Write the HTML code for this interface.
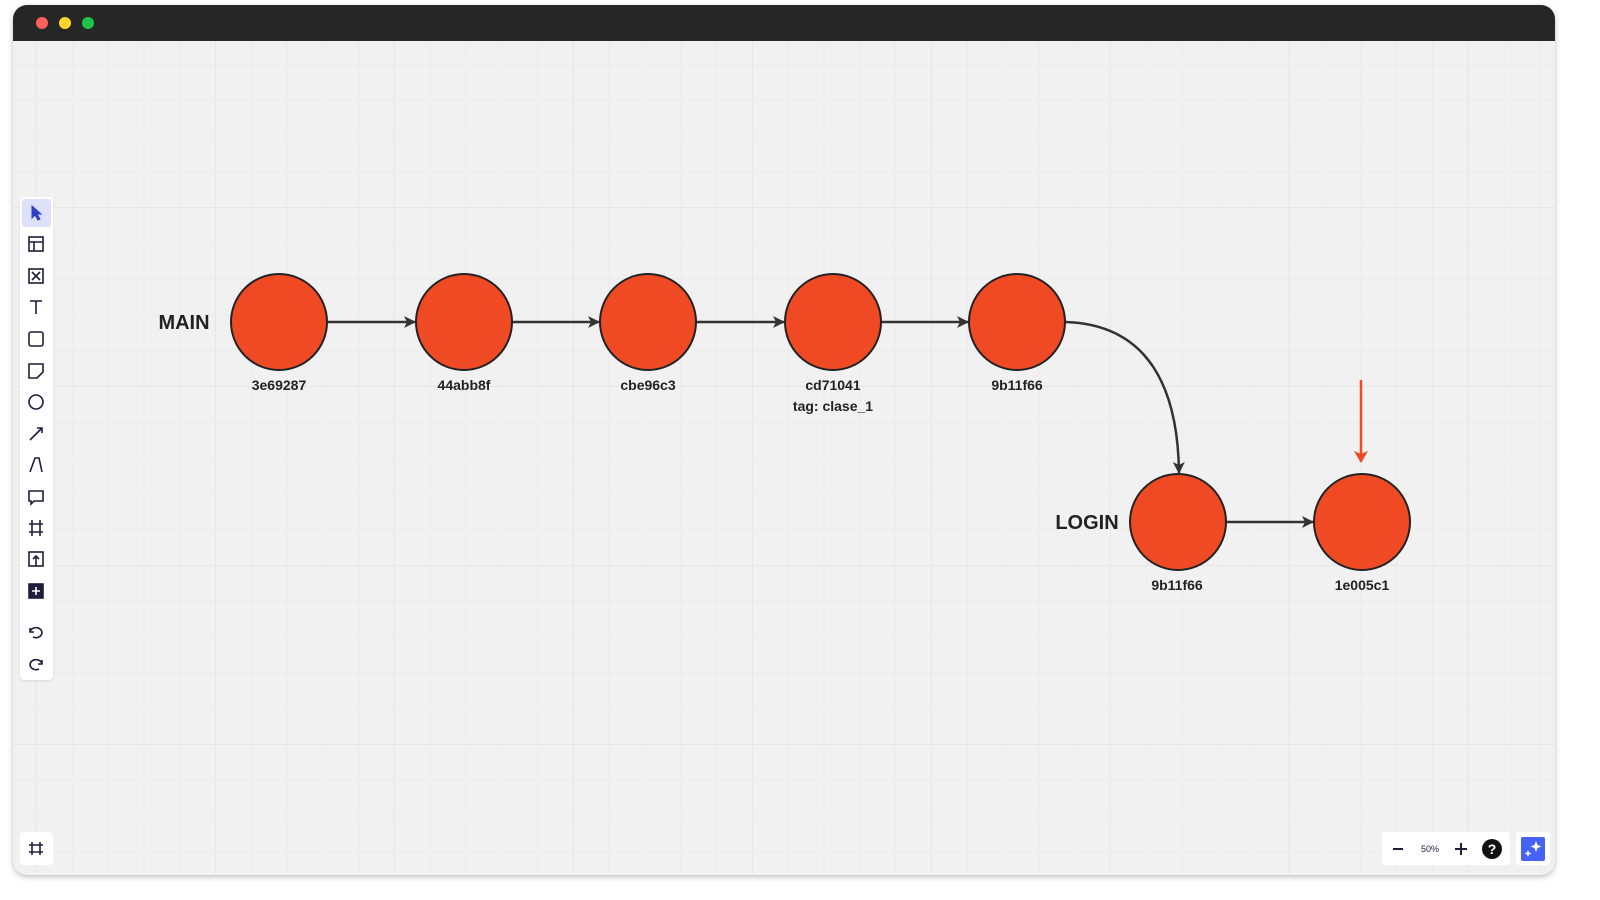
<!DOCTYPE html>
<html><head><style>
body{margin:0;width:1600px;height:900px;background:#fff;overflow:hidden;font-family:"Liberation Sans",sans-serif;position:relative}
.win{position:absolute;left:13px;top:5px;width:1542px;height:870px;border-radius:14px;overflow:hidden;box-shadow:0 2px 6px rgba(0,0,0,.25);
background-color:#f1f1f1;
background-image:linear-gradient(#e6e6e6 1px,transparent 1px),linear-gradient(90deg,#e6e6e6 1px,transparent 1px),linear-gradient(#ebebeb 1px,transparent 1px),linear-gradient(90deg,#ebebeb 1px,transparent 1px);
background-size:179px 179px,179px 179px,35.8px 35.8px,35.8px 35.8px;background-position:23px 23px,23px 23px,23px 23px,23px 23px}
.bar{position:absolute;left:0;top:0;right:0;height:36px;background:#262626}
.dot{position:absolute;top:12px;width:12px;height:12px;border-radius:50%}
.tb{position:absolute;left:20px;top:197px;width:33px;height:483px;background:#fff;border-radius:4px;box-shadow:0 1px 2px rgba(0,0,0,.1)}
</style></head><body>
<div class="win">
<div class="bar"><div class="dot" style="left:23px;background:#ff6159"></div><div class="dot" style="left:46px;background:#ffd52e"></div><div class="dot" style="left:69px;background:#1fc34a"></div></div>
</div>
<div class="tb"><div style="position:absolute;left:2px;top:2px;width:29px;height:28px;background:#dde1fb;border-radius:3px"></div></div>
<svg width="1600" height="900" style="position:absolute;left:0;top:0">
<defs><marker id="a" markerWidth="12" markerHeight="12" refX="11" refY="6" orient="auto" markerUnits="userSpaceOnUse"><path d="M0,0L12,6L0,12L3,6z" fill="#333"/></marker>
<marker id="r" markerWidth="12" markerHeight="14" refX="11" refY="7" orient="auto" markerUnits="userSpaceOnUse"><path d="M0,0L12,7L0,14L3,7z" fill="#f04a24"/></marker></defs>
<g stroke="#333" stroke-width="2.5" fill="none" marker-end="url(#a)">
<path d="M328,322H415"/><path d="M513,322H599"/><path d="M697,322H784"/><path d="M882,322H968"/>
<path d="M1066,322C1150,325 1178,390 1179,473"/><path d="M1227,522H1313"/></g>
<path d="M1361,380V462" stroke="#f04a24" stroke-width="2.5" marker-end="url(#r)"/>
<g fill="#f04a24" stroke="#222" stroke-width="2">
<circle cx="279" cy="322" r="48"/><circle cx="464" cy="322" r="48"/><circle cx="648" cy="322" r="48"/><circle cx="833" cy="322" r="48"/><circle cx="1017" cy="322" r="48"/><circle cx="1178" cy="522" r="48"/><circle cx="1362" cy="522" r="48"/></g>
<g font-family="Liberation Sans,sans-serif" font-weight="bold" fill="#222" text-anchor="middle" font-size="14">
<text x="279" y="390">3e69287</text><text x="464" y="390">44abb8f</text><text x="648" y="390">cbe96c3</text><text x="833" y="390">cd71041</text><text x="833" y="411">tag: clase_1</text><text x="1017" y="390">9b11f66</text><text x="1177" y="590">9b11f66</text><text x="1362" y="590">1e005c1</text>
<text x="184" y="329" font-size="20">MAIN</text><text x="1087" y="529" font-size="20">LOGIN</text></g>
<g stroke="#1b1f3b" stroke-width="1.6" fill="none">
<path d="M32,206l0,12l3,-3l3,5l2,-1l-3,-5l4,0z" fill="#2b3fc9" stroke="#2b3fc9" stroke-width="1"/>
<rect x="29" y="237" width="14" height="14"/><path d="M29,242h14M34,242v9"/>
<rect x="29" y="269" width="14" height="14"/><path d="M32,272l8,8M40,272l-8,8"/>
<path d="M30,301h12M36,301v13"/>
<rect x="29" y="332" width="14" height="14" rx="2"/>
<path d="M29,364h14v8l-6,6h-8z"/>
<circle cx="36" cy="402" r="7"/>
<path d="M30,440l11,-11M37,428h5v5"/>
<path d="M30,472l5,-14l4,0l3,14"/>
<path d="M29,491h14v10h-9l-3,3v-3h-2z"/>
<path d="M32,520v16M40,520v16M29,524h14M29,532h14"/>
<rect x="29" y="552" width="14" height="14"/><path d="M36,556v10M33,559l3,-3l3,3"/>
<rect x="29" y="584" width="14" height="14" fill="#1b1f3b"/><path d="M36,587v8M32,591h8" stroke="#fff"/>
<path d="M30,632a6,5 0 1 1 3,5M30,628v4h4"/>
<path d="M42,664a6,5 0 1 0 -3,5M42,660v4h-4"/>
</g>
<rect x="20" y="832" width="33" height="33" rx="4" fill="#fff"/>
<path d="M32,842v13M40,842v13M29,845h14M29,852h14" stroke="#1b1f3b" stroke-width="1.6"/>
<rect x="1382" y="832" width="128" height="33" rx="3" fill="#fff"/>
<path d="M1393,849h10M1455,849h12M1461,843v12" stroke="#1b1f3b" stroke-width="2"/>
<text x="1430" y="852" font-size="9" text-anchor="middle" fill="#1b1f3b" font-family="Liberation Sans,sans-serif">50%</text>
<circle cx="1492" cy="849" r="10" fill="#111"/><text x="1492" y="854" font-size="14" font-weight="bold" text-anchor="middle" fill="#fff" font-family="Liberation Sans,sans-serif">?</text>
<rect x="1516" y="832" width="34" height="33" rx="3" fill="#fff"/>
<rect x="1521" y="837" width="24" height="24" rx="2" fill="#4763f5"/>
<path d="M1536,841l1.5,4l4,1.5l-4,1.5l-1.5,4l-1.5,-4l-4,-1.5l4,-1.5zM1528,850l1,2.5l2.5,1l-2.5,1l-1,2.5l-1,-2.5l-2.5,-1l2.5,-1z" fill="#fff"/>
</svg>
</body></html>
